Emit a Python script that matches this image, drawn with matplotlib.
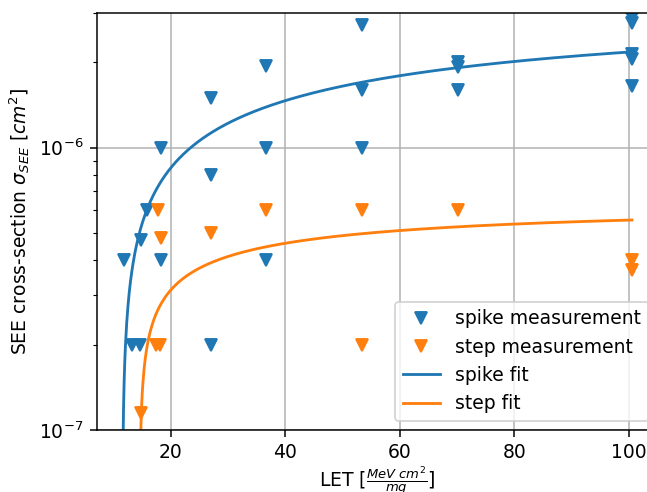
import numpy as np
import matplotlib
matplotlib.use('Agg')
import matplotlib.pyplot as plt

# measured cross-sections (LET in MeV cm^2/mg, sigma in cm^2)
spike_let = [11.9, 13.3, 14.7, 14.8, 15.9, 18.3, 18.4,
             27.0, 27.0, 27.0, 36.6, 36.6, 36.6,
             53.4, 53.4, 53.4, 70.1, 70.1, 70.1,
             100.5, 100.5, 100.5, 100.5, 100.5]
spike_sigma = [4e-7, 2e-7, 2e-7, 4.7e-7, 6e-7, 1e-6, 4e-7,
               1.5e-6, 8e-7, 2e-7, 1.95e-6, 1e-6, 4e-7,
               2.72e-6, 1.6e-6, 1e-6, 2e-6, 1.93e-6, 1.6e-6,
               2.88e-6, 2.76e-6, 2.15e-6, 2.05e-6, 1.65e-6]

step_let = [14.9, 17.5, 18.2, 17.8, 18.4, 27.0, 36.6,
            53.4, 53.4, 70.1, 100.5, 100.5]
step_sigma = [1.15e-7, 2e-7, 2e-7, 6e-7, 4.8e-7, 5e-7, 6e-7,
              6e-7, 2e-7, 6e-7, 4.0e-7, 3.7e-7]

# Weibull fit parameters (saturation, threshold, width, shape)
spike_fit = (3.0e-6, 11.55, 56.7, 0.58)
step_fit = (6.2e-7, 14.6, 12.5, 0.42)


def weibull(let, sat, l0, w, s):
    x = np.clip(let - l0, 0, None)
    return sat * (1 - np.exp(-(x / w) ** s))


dpi = 135
fig = plt.figure(figsize=(647 / dpi, 492 / dpi), dpi=dpi)
ax = fig.add_axes([0.1495, 0.1254, 0.8675, 0.8488])

ax.plot(spike_let, spike_sigma, 'v', color='C0', label='spike measurement')
ax.plot(step_let, step_sigma, 'v', color='C1', label='step measurement')

let_spike = np.linspace(spike_fit[1], max(spike_let), 800)
let_step = np.linspace(step_fit[1], max(step_let), 800)
ax.plot(let_spike, weibull(let_spike, *spike_fit), color='C0', label='spike fit')
ax.plot(let_step, weibull(let_step, *step_fit), color='C1', label='step fit')

ax.set_yscale('log')
ax.set_xlim(7.1, 105.05)
ax.set_ylim(1e-7, 3e-6)
ax.grid(True)

ax.set_xlabel(r'LET [$\frac{MeV\ cm^2}{mg}$]', labelpad=1)
ax.set_ylabel(r'SEE cross-section $\sigma_{SEE}$ $[cm^2]$')
ax.legend(loc='lower right')

fig.savefig('out.png', dpi=dpi)
